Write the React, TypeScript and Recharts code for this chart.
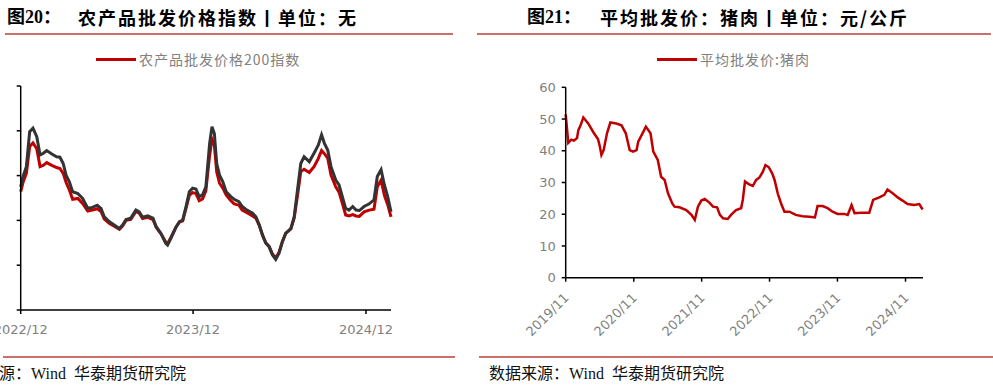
import React from 'react';
import { LineChart, Line, XAxis, YAxis } from 'recharts';

// 农产品 / 菜篮子 批发价格200指数
const indexDates = [
  '2022-12-01', '2022-12-06', '2022-12-13', '2022-12-20', '2022-12-27', '2023-01-04', '2023-01-11', '2023-01-18', '2023-01-25', '2023-02-05',
  '2023-02-15', '2023-02-22', '2023-03-01', '2023-03-07', '2023-03-14', '2023-03-21', '2023-04-01', '2023-04-11', '2023-04-22', '2023-05-02',
  '2023-05-12', '2023-05-20', '2023-05-27', '2023-06-07', '2023-06-17', '2023-06-28', '2023-07-05', '2023-07-12', '2023-07-22', '2023-08-02',
  '2023-08-09', '2023-08-16', '2023-08-27', '2023-09-07', '2023-09-14', '2023-09-24', '2023-10-04', '2023-10-08', '2023-10-15', '2023-10-26',
  '2023-11-02', '2023-11-09', '2023-11-16', '2023-11-23', '2023-11-30', '2023-12-07', '2023-12-14', '2023-12-21', '2023-12-28', '2024-01-05',
  '2024-01-10', '2024-01-15', '2024-01-20', '2024-01-26', '2024-02-02', '2024-02-09', '2024-02-19', '2024-02-26', '2024-03-07', '2024-03-14',
  '2024-03-24', '2024-04-05', '2024-04-12', '2024-04-19', '2024-04-26', '2024-05-03', '2024-05-10', '2024-05-17', '2024-05-24', '2024-05-31',
  '2024-06-07', '2024-06-14', '2024-06-25', '2024-07-02', '2024-07-09', '2024-07-16', '2024-07-23', '2024-08-03', '2024-08-13', '2024-08-22',
  '2024-08-29', '2024-09-04', '2024-09-11', '2024-09-18', '2024-09-28', '2024-10-05', '2024-10-12', '2024-10-19', '2024-10-26', '2024-11-03',
  '2024-11-10', '2024-11-17', '2024-11-27', '2024-12-08', '2024-12-18', '2024-12-25', '2025-01-02', '2025-01-09', '2025-01-16', '2025-01-23',
];
const basketIndex = [
  127.5, 129.8, 132, 139.8, 140.6, 138.7, 134.6, 135, 135.6, 134.8,
  134.2, 134.1, 132.7, 130.1, 128.6, 126.4, 126, 124.9, 122.7, 122.9,
  123.4, 122.7, 120.8, 119.7, 119, 118.2, 119, 120.2, 120.5, 122.3,
  121.9, 120.7, 121, 120.5, 118.6, 117.1, 114.9, 114.5, 116, 118.5,
  119.7, 120.1, 123.1, 126.4, 127.2, 127, 125.3, 125.7, 127.5, 137.2,
  140.9, 139.4, 132.7, 130.1, 128.6, 126.4, 125.3, 124.7, 124.2, 123.1,
  122.3, 121.6, 120.8, 119, 116.7, 114.9, 114.1, 112.3, 111.3, 112.7,
  115.2, 117.1, 118.2, 120.8, 126.8, 132.7, 134.2, 133.1, 135, 136.8,
  139.1, 137.2, 135.7, 132, 129, 127.9, 125.3, 122.7, 122.3, 123.1,
  122.3, 122.2, 123.1, 123.7, 124.6, 129.8, 131.3, 127.9, 125.3, 121.9,
];
const farmIndex = [
  126.4, 128.5, 130.5, 136.5, 137.3, 136, 132, 132.3, 132.9, 132.3,
  131.8, 131.6, 130.5, 128.5, 126.8, 124.7, 124.9, 123.8, 122.1, 122.3,
  122.6, 122, 120.3, 119.3, 118.7, 118, 118.8, 120, 120.2, 122,
  121.6, 120.4, 120.7, 120.2, 118.4, 117, 115.2, 114.8, 116.2, 118.6,
  119.6, 119.9, 122.7, 125.6, 126.2, 126, 124.4, 124.8, 126.6, 134.5,
  138.1, 136.8, 130.8, 128.3, 127.2, 125.7, 124.4, 123.7, 123.4, 122.3,
  121.7, 121, 120.5, 118.9, 116.7, 115, 114.2, 112.5, 111.6, 112.9,
  115.3, 117.1, 118.1, 120.5, 125.5, 130.9, 131.4, 130.7, 132, 133.8,
  135.6, 134.9, 133.9, 130.1, 127.5, 126.3, 123.8, 121.2, 121, 121.3,
  121, 120.9, 121.9, 122.3, 122.5, 127.5, 129, 125.6, 123.5, 120.8,
];
const indexTicks = ['2022/12', '2023/12', '2024/12'];
const indexYTicks = [100, 110, 120, 130, 140, 150];

// 平均批发价：猪肉
const porkDates = [
  '2019-11-01', '2019-11-15', '2019-12-01', '2019-12-15', '2020-01-01', '2020-01-08', '2020-01-20', '2020-02-04', '2020-03-01', '2020-03-27',
  '2020-04-23', '2020-05-02', '2020-05-11', '2020-05-23', '2020-06-10', '2020-06-28', '2020-07-30', '2020-08-27', '2020-09-19', '2020-10-10',
  '2020-10-28', '2020-11-16', '2020-11-25', '2020-12-18', '2021-01-05', '2021-01-30', '2021-02-14', '2021-03-10', '2021-03-28', '2021-04-16',
  '2021-05-04', '2021-05-27', '2021-06-08', '2021-07-05', '2021-08-10', '2021-09-07', '2021-09-25', '2021-10-12', '2021-10-30', '2021-11-18',
  '2021-12-14', '2022-01-01', '2022-01-23', '2022-02-07', '2022-02-24', '2022-03-21', '2022-04-08', '2022-05-05', '2022-06-01', '2022-06-10',
  '2022-06-22', '2022-07-12', '2022-08-03', '2022-08-21', '2022-09-08', '2022-09-26', '2022-10-10', '2022-10-28', '2022-11-15', '2022-11-28',
  '2022-12-15', '2023-01-03', '2023-01-20', '2023-02-16', '2023-03-22', '2023-04-27', '2023-06-03', '2023-07-03', '2023-07-17', '2023-08-13',
  '2023-09-09', '2023-10-06', '2023-11-02', '2023-12-08', '2023-12-26', '2024-01-16', '2024-02-01', '2024-03-06', '2024-04-20', '2024-05-11',
  '2024-06-13', '2024-07-10', '2024-07-27', '2024-08-24', '2024-09-20', '2024-10-16', '2024-11-12', '2024-12-18', '2025-01-14', '2025-02-01',
];
const porkPrice = [
  51.5, 42.5, 43.5, 43.2, 44.0, 46.5, 48.0, 50.5, 48.6, 46.0,
  43.6, 41.5, 38.7, 40.2, 45.5, 48.9, 48.6, 48.0, 45.5, 40.2,
  39.7, 40.2, 42.9, 45.5, 47.6, 45.5, 39.7, 37.1, 31.8, 30.8,
  26.6, 23.4, 22.4, 22.2, 21.3, 19.8, 18.2, 22.4, 24.3, 24.8,
  23.6, 22.4, 22.2, 19.8, 18.7, 18.5, 19.8, 21.3, 21.9, 24.5,
  30.3, 29.5, 28.9, 30.8, 31.6, 33.4, 35.5, 34.8, 32.9, 30.8,
  26.6, 23.2, 20.8, 20.8, 19.8, 19.4, 19.2, 19.0, 22.6, 22.6,
  21.9, 20.8, 20.1, 20.1, 19.8, 22.9, 20.3, 20.5, 20.5, 24.5,
  25.3, 26.1, 27.8, 26.6, 25.3, 24.3, 23.2, 22.9, 23.2, 21.5,
];
const porkTicks = ['2019/11', '2020/11', '2021/11', '2022/11', '2023/11', '2024/11'];
const porkYTicks = [0, 10, 20, 30, 40, 50, 60];

const ts = (s: string) => {
  const [y, m, d] = s.split(/[-/]/).map(Number);
  return Date.UTC(y, m - 1, d || 1);
};

const indexData = indexDates.map((d, i) => ({ t: ts(d), basket: basketIndex[i], farm: farmIndex[i] }));
const porkData = porkDates.map((d, i) => ({ t: ts(d), price: porkPrice[i] }));

const RED = '#c00000';
const GRAY = '#808080';
const AXIS_FONT = '"DejaVu Sans", sans-serif';
const CJK = '"Noto Sans CJK SC", sans-serif';
const RULE = '#c9706c';

const labelOf = (ticks: string[]) => (v: number) => {
  const i = ticks.findIndex((s) => ts(s) === v);
  return i >= 0 ? ticks[i] : '';
};

const PorkTick = (props: any) => {
  const { x, y, payload } = props;
  return (
    <text
      transform={`translate(${x + 4},${y + 15}) rotate(-45)`}
      textAnchor="end"
      fill={GRAY}
      fontSize={13}
      fontFamily={AXIS_FONT}
    >
      {labelOf(porkTicks)(payload.value)}
    </text>
  );
};

const abs = (s: React.CSSProperties): React.CSSProperties => ({ position: 'absolute', ...s });

const Title = ({ left, left2, no, text }: { left: number; left2: number; no: string; text: string }) => (
  <>
    <div style={abs({ left, top: 6, fontSize: 18, fontWeight: 'bold', fontFamily: `"Liberation Serif", ${CJK}`, whiteSpace: 'nowrap', lineHeight: '22px' })}>{no}</div>
    <div style={abs({ left: left2, top: 6, fontSize: 18, fontWeight: 'bold', fontFamily: CJK, letterSpacing: 2, whiteSpace: 'nowrap', lineHeight: '22px' })}>{text}</div>
  </>
);

const LegendItem = ({ left, text }: { left: number; text: string }) => (
  <div style={abs({ left, top: 49, display: 'flex', alignItems: 'center', whiteSpace: 'nowrap' })}>
    <div style={{ width: 40, height: 3, background: RED, marginRight: 3 }} />
    <span style={{ fontSize: 14, color: GRAY, fontFamily: CJK, letterSpacing: 1, lineHeight: '20px' }}>{text}</span>
  </div>
);

const Footer = ({ left }: { left: number }) => (
  <div style={abs({ left, top: 364, fontSize: 16, fontFamily: `"Liberation Serif", ${CJK}`, whiteSpace: 'pre', color: '#111', lineHeight: '20px' })}>
    数据来源：Wind  华泰期货研究院
  </div>
);

const App: React.FC = () => {
  return (
    <div style={abs({ left: 0, top: 0, width: 993, height: 387, overflow: 'hidden', background: '#fff' })}>
      <Title left={7} left2={78} no="图20：" text="农产品批发价格指数丨单位：无" />
      <Title left={527} left2={600} no="图21：" text="平均批发价：猪肉丨单位：元/公斤" />
      <div style={abs({ left: 5, top: 33, width: 448, height: 2, background: RULE })} />
      <div style={abs({ left: 477, top: 33, width: 514, height: 2, background: RULE })} />

      <LegendItem left={96} text="农产品批发价格200指数" />
      <LegendItem left={657} text="平均批发价:猪肉" />

      {/* 左图：y轴刻度标签在原图中被裁掉 */}
      <div style={abs({ left: 0, top: 80 })}>
        <LineChart width={400} height={260} data={indexData} margin={{ top: 6, right: 9, left: 0, bottom: 0 }}>
          <XAxis
            dataKey="t"
            type="number"
            scale="time"
            domain={[ts('2022-12-01'), ts('2025-01-23')]}
            ticks={indexTicks.map(ts)}
            tickFormatter={labelOf(indexTicks)}
            interval={0}
            height={30}
            tickSize={4}
            tickMargin={11}
            stroke="#000"
            strokeWidth={1.5}
            tick={{ fill: GRAY, fontSize: 13, fontFamily: AXIS_FONT }}
          />
          <YAxis
            type="number"
            domain={[100, 150]}
            ticks={indexYTicks}
            interval={0}
            width={20.7}
            tickSize={4}
            tickFormatter={() => ''}
            stroke="#000"
            strokeWidth={1.5}
          />
          <Line dataKey="farm" type="linear" stroke={RED} strokeWidth={3} dot={false} isAnimationActive={false} />
          <Line dataKey="basket" type="linear" stroke="#333333" strokeWidth={3} dot={false} isAnimationActive={false} />
        </LineChart>
      </div>

      <div style={abs({ left: 480, top: 80 })}>
        <LineChart width={460} height={260} data={porkData} margin={{ top: 7.3, right: 17, left: 0, bottom: 7.3 }}>
          <XAxis
            dataKey="t"
            type="number"
            scale="time"
            domain={[ts('2019-11-01'), ts('2025-02-03')]}
            ticks={porkTicks.map(ts)}
            height={55}
            tickSize={4}
            stroke="#000"
            strokeWidth={1.5}
            tick={<PorkTick />}
            interval={0}
          />
          <YAxis
            type="number"
            domain={[0, 60]}
            ticks={porkYTicks}
            interval={0}
            width={85.7}
            tickSize={4}
            tickMargin={6}
            stroke="#000"
            strokeWidth={1.5}
            tick={{ fill: GRAY, fontSize: 13, fontFamily: AXIS_FONT }}
          />
          <Line dataKey="price" type="linear" stroke={RED} strokeWidth={2.5} dot={false} isAnimationActive={false} />
        </LineChart>
      </div>

      <div style={abs({ left: 3, top: 356, width: 452, height: 2, background: RULE })} />
      <div style={abs({ left: 479, top: 356, width: 514, height: 2, background: RULE })} />
      <Footer left={-49} />
      <Footer left={489} />
    </div>
  );
};

export default App;
